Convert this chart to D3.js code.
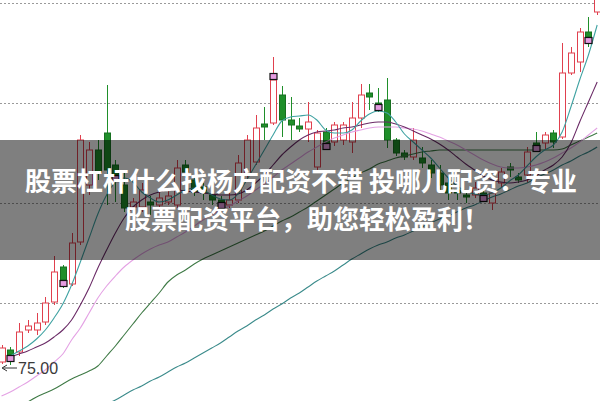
<!DOCTYPE html>
<html><head><meta charset="utf-8">
<script src="https://cdn.jsdelivr.net/npm/d3@7"></script>
<style>html,body{margin:0;padding:0;background:#fff;}svg{display:block;}</style>
</head><body>
<svg id="c" width="600" height="401"></svg>
<script>
// ---- data (prices) ----
const openP  = [75.3,76.5,76.3,78.5,78.5,79.3,81.3,84.8,83.1,87.3,93.0,96.5,98.2,95.0,93.0,90.8,90.8,91.3,91.0,91.3,91.0,95.0,93.5,92.8,92.0,91.5,91.0,91.5,94.0,95.3,99.1,99.2,102.0,99.5,98.9,98.6,94.8,98.3,97.3,97.5,97.3,99.7,102.2,101.2,101.5,97.5,96.2,95.8,95.7,95.0,94.2,93.2,92.5,92.0,92.0,92.2,91.2,93.2,94.8,93.8,94.0,97.2,97.2,98.2,97.8,104.2,105.3,108.3,110.3];
const closeP = [76.7,76.0,78.3,78.9,79.2,81.2,84.3,83.5,87.2,97.5,96.5,94.3,94.5,94.0,90.7,91.3,92.5,91.0,91.7,91.9,94.7,94.3,92.3,92.2,91.5,91.3,91.5,95.2,97.5,98.7,98.8,103.5,99.5,99.0,98.6,99.3,98.2,97.2,99.0,99.0,99.7,102.0,101.8,101.1,97.5,96.2,95.8,97.5,95.2,94.2,93.0,92.2,92.2,91.8,92.7,92.0,92.2,94.3,94.5,93.5,96.3,97.0,98.0,97.3,104.2,106.2,108.3,107.8,112.3];
const highP  = [77.0,76.8,79.2,79.5,80.2,81.8,85.9,85.0,88.2,98.0,97.3,97.5,103.0,95.5,94.2,91.7,93.2,91.9,92.3,92.7,95.5,95.5,94.0,93.2,92.5,91.9,92.5,96.0,98.0,100.0,100.8,105.8,102.9,101.8,99.7,101.3,98.5,98.7,99.3,99.3,101.3,103.1,103.1,102.7,103.7,97.7,96.5,98.7,96.8,95.5,95.0,93.7,93.0,92.5,93.3,92.5,92.5,94.7,95.2,94.2,96.8,98.3,98.3,98.5,107.2,106.8,108.7,109.8,113.0];
const lowP   = [75.1,75.0,75.9,78.2,78.0,79.0,81.0,82.7,82.9,87.0,92.0,93.5,91.0,91.3,90.3,90.5,90.3,90.0,90.7,91.0,90.7,93.7,91.9,91.5,91.0,90.9,90.7,91.2,93.5,95.0,97.5,99.0,97.8,97.5,98.3,97.3,94.2,96.8,96.9,97.0,96.2,98.7,100.5,100.3,96.7,95.9,95.5,95.5,94.7,93.7,92.5,91.5,91.5,91.2,91.7,91.5,90.5,92.8,93.8,93.2,93.2,96.3,96.5,96.7,97.6,104.0,104.3,106.8,110.0];
const markerIdx = [1,7,13,25,31,37,43,55,61,67];

const ma5   = [null,75.9,76.4,76.9,77.6,78.5,79.7,81.1,83.0,85.3,87.7,90.1,92.0,93.3,93.7,93.3,92.3,91.7,91.3,91.5,92.0,92.5,92.7,92.5,92.0,91.6,91.5,92.1,93.5,95.0,96.5,98.0,99.4,99.8,99.9,100.0,99.5,98.5,98.2,98.2,98.5,99.4,100.1,100.4,100.2,99.3,98.1,97.3,96.5,95.7,94.7,93.7,92.9,92.4,92.1,92.0,92.2,92.7,93.4,94.0,94.9,95.8,96.5,97.0,98.3,100.8,103.5,106.0,109.0];
const ma10  = [null,75.8,76.1,76.4,76.8,77.2,77.8,78.5,79.5,81.0,82.7,84.7,86.5,88.2,89.7,90.8,91.5,92.0,92.3,92.5,92.5,92.4,92.3,92.2,92.1,92.0,92.0,92.1,92.5,93.2,94.0,95.0,96.0,96.8,97.5,98.0,98.3,98.4,98.5,98.7,98.8,99.0,99.2,99.3,99.3,99.1,98.8,98.4,98.0,97.6,97.1,96.5,95.8,95.1,94.5,93.9,93.5,93.3,93.2,93.3,93.5,93.9,94.5,95.0,95.8,97.2,99.3,101.3,103.3];
const ma20  = [71.9,72.3,72.8,73.3,73.9,74.5,75.3,76.1,77.5,78.7,80.2,81.7,82.9,83.9,84.8,85.5,86.1,86.6,87.0,87.3,87.8,88.3,88.9,89.5,90.0,90.5,90.9,91.4,91.9,92.5,93.1,93.8,94.5,95.1,95.7,96.3,96.8,97.3,97.7,98.0,98.3,98.5,98.7,98.8,98.8,98.8,98.7,98.6,98.4,98.1,97.8,97.4,97.0,96.5,96.0,95.5,95.1,94.8,94.7,94.7,94.8,95.0,95.3,95.7,96.2,96.7,97.3,98.0,98.7];
const ma60  = [null,null,null,71.3,71.8,72.2,72.6,73.1,73.6,74.0,74.4,74.9,75.9,76.9,78.0,79.1,80.2,81.2,82.2,83.3,84.0,84.5,85.1,85.6,86.0,86.4,86.8,87.2,87.6,88.0,88.4,88.9,89.4,89.8,90.3,90.8,91.4,92.0,92.6,93.2,93.7,94.2,94.6,95.1,95.4,95.7,95.9,96.1,96.3,96.4,96.5,96.5,96.5,96.5,96.5,96.5,96.5,96.5,96.5,96.5,96.5,96.5,96.5,96.5,96.6,97.0,97.4,97.8,98.2];
const ma120 = [null,null,null,null,null,null,null,null,null,null,null,null,71.1,71.5,72.0,72.5,72.9,73.4,73.8,74.3,74.8,75.2,75.7,76.2,76.7,77.2,77.8,78.4,78.9,79.5,80.0,80.6,81.1,81.7,82.2,82.8,83.4,83.9,84.4,85.0,85.6,86.1,86.6,87.0,87.3,87.7,88.0,88.4,88.8,89.2,89.6,89.9,90.3,90.7,91.0,91.4,91.8,92.1,92.5,92.9,93.2,93.7,94.1,94.5,95.0,95.4,95.9,96.3,96.8];
const gridP = [111.2, 101.2, 91.2, 81.2];
const lowLabel = "75.00";
const bannerLines = ["股票杠杆什么找杨方配资不错 投哪儿配资：专业", "股票配资平台，助您轻松盈利！"];

// ---- drawing ----
const W = 600, H = 401;
const svg = d3.select("#c");
const n = openP.length;
const x = d3.scaleLinear().domain([0, n - 1]).range([1.5, 1.5 + 8.76 * (n - 1)]);
const y = d3.scaleLinear().domain([75, 111.5]).range([365, 0]);

const RED = "#e0404e", GREEN = "#1f8f2a";

svg.append("g").selectAll("line").data(gridP).join("line")
  .attr("x1", 0).attr("x2", W)
  .attr("y1", d => Math.round(y(d)) + 0.5).attr("y2", d => Math.round(y(d)) + 0.5)
  .attr("stroke", "#9a9a9a").attr("stroke-width", 1).attr("stroke-dasharray", "2,2");

const idx = d3.range(n);
const up = i => closeP[i] >= openP[i];
const cg = svg.append("g");
cg.selectAll("line.w").data(idx).join("line").attr("class", "w")
  .attr("x1", i => Math.round(x(i)) + 0.5).attr("x2", i => Math.round(x(i)) + 0.5)
  .attr("y1", i => y(highP[i])).attr("y2", i => y(lowP[i]))
  .attr("stroke", i => up(i) ? RED : GREEN).attr("stroke-width", 1);
cg.selectAll("rect.b").data(idx).join("rect").attr("class", "b")
  .attr("x", i => Math.round(x(i)) - 2.5)
  .attr("width", 6)
  .attr("y", i => y(Math.max(openP[i], closeP[i])))
  .attr("height", i => Math.max(1, Math.abs(y(openP[i]) - y(closeP[i]))))
  .attr("fill", i => up(i) ? "#fff" : GREEN)
  .attr("stroke", i => up(i) ? RED : "#177020")
  .attr("stroke-width", 1);

const line = d3.line().defined(d => d[1] != null).x(d => x(d[0])).y(d => y(d[1])).curve(d3.curveMonotoneX);
const maList = [
  [ma120, "#3b8b8b"], [ma60, "#3f7a46"], [ma20, "#e4a2e4"], [ma10, "#6a2a66"], [ma5, "#3fa2a2"]
];
svg.append("g").selectAll("path").data(maList).join("path")
  .attr("d", d => line(d[0].map((v, i) => [i, v])))
  .attr("fill", "none").attr("stroke", d => d[1]).attr("stroke-width", 1.1);

const mg = svg.append("g");
mg.selectAll("rect").data(markerIdx).join("rect")
  .attr("x", i => Math.round(x(i)) - 3)
  .attr("y", i => up(i) && closeP[i] - openP[i] > 0.3 ? y(closeP[i]) - 6.5 : y(closeP[i]) + 0.5)
  .attr("width", 7).attr("height", 6)
  .attr("fill", "#e59be0").attr("stroke", "#111").attr("stroke-width", 1.2);

// low label
const ly = 368;
svg.append("line").attr("x1", 3).attr("x2", 17).attr("y1", ly).attr("y2", ly).attr("stroke", "#333").attr("stroke-width", 1);
svg.append("path").attr("d", `M2,${ly} L7,${ly - 3} M2,${ly} L7,${ly + 3}`).attr("stroke", "#333").attr("fill", "none");
svg.append("text").attr("x", 18).attr("y", ly).attr("dy", "0.36em")
  .attr("font-family", "Liberation Sans, Arial, sans-serif").attr("font-size", 16).attr("fill", "#3a3a3a").text(lowLabel);

// banner
svg.append("rect").attr("x", 0).attr("y", 140).attr("width", W).attr("height", 120).attr("fill", "rgba(0,0,0,0.5)");
svg.append("g").selectAll("text").data(bannerLines).join("text")
  .attr("x", (d, i) => i === 0 ? 301 : 307).attr("y", (d, i) => i === 0 ? 182 : 220)
  .attr("dy", "0.36em").attr("text-anchor", "middle")
  .attr("font-family", "Noto Sans CJK SC, sans-serif").attr("font-weight", "bold").attr("font-size", 26)
  .attr("fill", "#fff").text(d => d);
</script>
</body></html>
